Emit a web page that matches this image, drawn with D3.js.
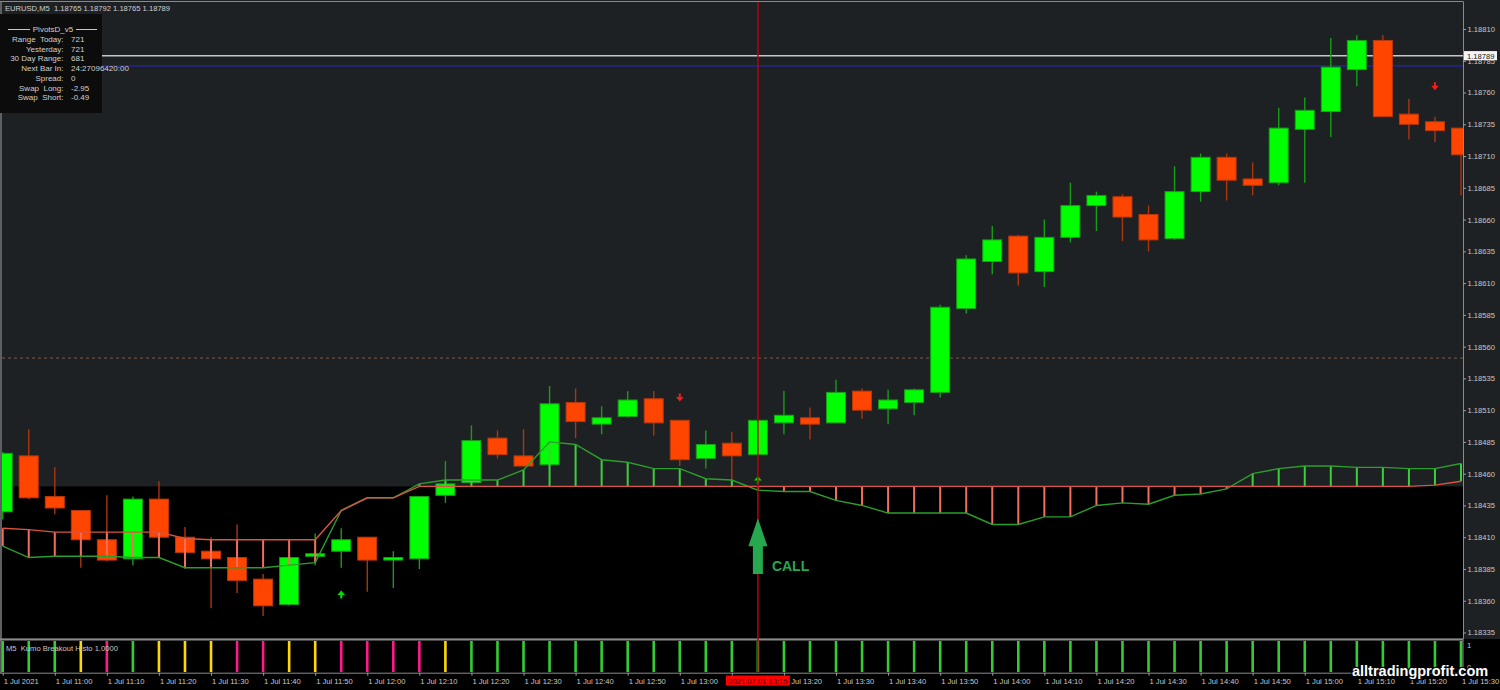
<!DOCTYPE html>
<html><head><meta charset="utf-8">
<script src="https://cdn.jsdelivr.net/npm/d3@7"></script>
<style>html,body{margin:0;padding:0;background:#000;overflow:hidden}svg{display:block}text{white-space:pre}</style>
</head><body><svg id="c" width="1500" height="690"></svg>
<script>
// ---------------- DATA ----------------
const times = ["10:50","10:55","11:00","11:05","11:10","11:15","11:20","11:25","11:30","11:35","11:40","11:45","11:50","11:55",
"12:00","12:05","12:10","12:15","12:20","12:25","12:30","12:35","12:40","12:45","12:50","12:55",
"13:00","13:05","13:10","13:15","13:20","13:25","13:30","13:35","13:40","13:45","13:50","13:55",
"14:00","14:05","14:10","14:15","14:20","14:25","14:30","14:35","14:40","14:45","14:50","14:55",
"15:00","15:05","15:10","15:15","15:20","15:25","15:30"];
const opens = [1.18430,1.18474,1.18442,1.18431,1.18408,1.18393,1.18440,1.18410,1.18399,1.18394,1.18377,1.18357,1.18395,1.18399,
1.18410,1.18392,1.18393,1.18443,1.18453,1.18488,1.18474,1.18467,1.18516,1.18499,1.18505,1.18519,
1.18502,1.18472,1.18484,1.18475,1.18500,1.18504,1.18500,1.18525,1.18511,1.18516,1.18524,1.18590,
1.18627,1.18647,1.18619,1.18646,1.18671,1.18678,1.18664,1.18645,1.18682,1.18709,1.18692,1.18689,
1.18731,1.18745,1.18778,1.18801,1.18743,1.18737,1.18732];
const highs = [1.18477,1.18495,1.18465,1.18431,1.18443,1.18442,1.18454,1.18418,1.18410,1.18420,1.18381,1.18395,1.18413,1.18417,
1.18410,1.18399,1.18442,1.18470,1.18498,1.18494,1.18495,1.18529,1.18527,1.18513,1.18525,1.18525,
1.18502,1.18494,1.18493,1.18502,1.18525,1.18512,1.18534,1.18527,1.18526,1.18527,1.18593,1.18632,
1.18655,1.18648,1.18660,1.18689,1.18682,1.18680,1.18671,1.18702,1.18712,1.18712,1.18705,1.18748,
1.18756,1.18803,1.18805,1.18805,1.18755,1.18741,1.18732];
const lows = [1.18424,1.18440,1.18428,1.18386,1.18391,1.18388,1.18409,1.18385,1.18354,1.18366,1.18348,1.18356,1.18388,1.18386,
1.18367,1.18370,1.18385,1.18437,1.18450,1.18472,1.18466,1.18466,1.18488,1.18491,1.18504,1.18490,
1.18466,1.18464,1.18455,1.18475,1.18491,1.18487,1.18500,1.18503,1.18499,1.18506,1.18520,1.18586,
1.18617,1.18608,1.18607,1.18642,1.18651,1.18643,1.18635,1.18644,1.18674,1.18675,1.18679,1.18687,
1.18689,1.18725,1.18765,1.18741,1.18723,1.18721,1.18679];
const closes = [1.18476,1.18441,1.18433,1.18408,1.18392,1.18440,1.18410,1.18398,1.18393,1.18376,1.18356,1.18394,1.18397,1.18408,
1.18392,1.18394,1.18442,1.18452,1.18486,1.18475,1.18466,1.18515,1.18501,1.18504,1.18518,1.18500,
1.18471,1.18483,1.18474,1.18502,1.18506,1.18499,1.18524,1.18510,1.18518,1.18526,1.18591,1.18629,
1.18644,1.18618,1.18646,1.18671,1.18679,1.18662,1.18644,1.18682,1.18709,1.18691,1.18687,1.18732,
1.18746,1.18780,1.18801,1.18741,1.18735,1.18730,1.18711];
// Kumo lines (red span and green span)
const spanA = [1.18417,1.18416,1.18414,1.18414,1.18414,1.18414,1.18414,1.18409,1.18408,1.18408,1.18408,1.18408,1.18408,1.18431,
1.18441,1.18441,1.18450,1.18450,1.18450,1.18450,1.18450,1.18450,1.18450,1.18450,1.18450,1.18450,
1.18450,1.18450,1.18450,1.18450,1.18450,1.18450,1.18450,1.18450,1.18450,1.18450,1.18450,1.18450,
1.18450,1.18450,1.18450,1.18450,1.18450,1.18450,1.18450,1.18450,1.18450,1.18450,1.18450,1.18450,
1.18450,1.18450,1.18450,1.18450,1.18450,1.18451,1.18454];
const spanB = [1.18403,1.18394,1.18395,1.18395,1.18395,1.18394,1.18394,1.18386,1.18386,1.18386,1.18386,1.18388,1.18390,1.18431,
1.18441,1.18441,1.18452,1.18455,1.18455,1.18455,1.18463,1.18485,1.18483,1.18471,1.18469,1.18464,
1.18464,1.18456,1.18455,1.18447,1.18446,1.18446,1.18439,1.18435,1.18429,1.18429,1.18429,1.18429,
1.18420,1.18420,1.18426,1.18426,1.18435,1.18437,1.18436,1.18443,1.18444,1.18448,1.18460,1.18464,
1.18466,1.18466,1.18465,1.18465,1.18464,1.18464,1.18468];
// Kumo Breakout Histo state per bar: g = green, y = gold, p = pink
const histo = ["g","g","g","y","p","g","y","y","y","p","p","y","y","p",
"p","p","p","y","g","g","g","g","g","g","g","g",
"g","g","g","g","g","g","g","g","g","g","g","g",
"g","g","g","g","g","g","g","g","g","g","g","g",
"g","g","g","g","g","g","g"];
const upArrows = [{bar:"11:55", price:1.18365},{bar:"13:15", price:1.18455}];
const downArrows = [{bar:"13:00", price:1.18520},{bar:"15:25", price:1.18765}];
const priceTicks = [1.18810,1.18785,1.18760,1.18735,1.18710,1.18685,1.18660,1.18635,1.18610,1.18585,
1.18560,1.18535,1.18510,1.18485,1.18460,1.18435,1.18410,1.18385,1.18360,1.18335];
const timeTickTimes = ["10:50","11:00","11:10","11:20","11:30","11:40","11:50","12:00","12:10","12:20","12:30","12:40","12:50",
"13:00","13:10","13:20","13:30","13:40","13:50","14:00","14:10","14:20","14:30","14:40","14:50","15:00","15:10","15:20","15:30"];
const timeTickLabels = ["1 Jul 2021","1 Jul 11:00","1 Jul 11:10","1 Jul 11:20","1 Jul 11:30","1 Jul 11:40","1 Jul 11:50","1 Jul 12:00","1 Jul 12:10","1 Jul 12:20","1 Jul 12:30","1 Jul 12:40","1 Jul 12:50",
"1 Jul 13:00","1 Jul 13:10","1 Jul 13:20","1 Jul 13:30","1 Jul 13:40","1 Jul 13:50","1 Jul 14:00","1 Jul 14:10","1 Jul 14:20","1 Jul 14:30","1 Jul 14:40","1 Jul 14:50","1 Jul 15:00","1 Jul 15:10","1 Jul 15:20","1 Jul 15:30"];
const bidPrice = 1.18789, askLine = 1.18781, pivotLine = 1.18551, zoneTop = 1.18450;
const titleText = "EURUSD,M5  1.18765 1.18792 1.18765 1.18789";
const panelLabels = ["Range  Today:","Yesterday:","30 Day Range:","Next Bar In:","Spread:","Swap  Long:","Swap  Short:"];
const panelValues = ["721","721","681","24:27096420:00","0","-2.95","-0.49"];
const vlineTime = "13:15", vlineLabel = "2021.07.01 13:15";
const callAnno = {bar:"13:15", tip:1.18425, base:1.18381, label:"CALL"};

// ---------------- DRAW ----------------
const svg = d3.select("#c");
const FONT = "'Liberation Sans', Arial, sans-serif";
const FS = 7.6;
const plotL = 2, plotR = 1463, plotT = 2, plotB = 638;
const x = d3.scalePoint().domain(times).range([2.7, 1461]);
const y = d3.scaleLinear().domain([1.18335, 1.18810]).range([632.5, 29]);
const yh = d3.scaleLinear().domain([0, 1]).range([672, 641]);

svg.append("rect").attr("x",0).attr("y",0).attr("width",1500).attr("height",639).attr("fill","#1e2124");
svg.append("rect").attr("x",0).attr("y",639).attr("width",1500).attr("height",51).attr("fill","#000");

const defs = svg.append("defs");
defs.append("clipPath").attr("id","plot").append("rect")
  .attr("x",plotL).attr("y",plotT).attr("width",plotR-plotL).attr("height",plotB-plotT);
const main = svg.append("g").attr("clip-path","url(#plot)");

// black zone below level
main.append("rect").attr("x",plotL).attr("y",y(zoneTop)).attr("width",plotR-plotL)
  .attr("height",plotB - y(zoneTop)).attr("fill","#000");

// horizontal lines
main.append("line").attr("x1",plotL).attr("x2",plotR).attr("y1",y(pivotLine)).attr("y2",y(pivotLine))
  .attr("stroke","#7a5c44").attr("stroke-width",1).attr("stroke-dasharray","3,3");
main.append("line").attr("x1",plotL).attr("x2",plotR).attr("y1",y(bidPrice)).attr("y2",y(bidPrice))
  .attr("stroke","#c8c8c8").attr("stroke-width",1.5);
main.append("line").attr("x1",plotL).attr("x2",plotR).attr("y1",y(askLine)).attr("y2",y(askLine))
  .attr("stroke","#22228c").attr("stroke-width",1.6);

// candles
const idx = d3.range(times.length);
const bull = i => closes[i] >= opens[i];
main.append("g").selectAll("line").data(idx).join("line")
  .attr("x1",i=>x(times[i])).attr("x2",i=>x(times[i]))
  .attr("y1",i=>y(highs[i])).attr("y2",i=>y(lows[i]))
  .attr("stroke",i=>bull(i)?"#179c17":"#a8360f").attr("stroke-width",1.4);
main.append("g").selectAll("rect").data(idx).join("rect")
  .attr("x",i=>x(times[i])-9.5).attr("width",19)
  .attr("y",i=>y(Math.max(opens[i],closes[i])))
  .attr("height",i=>Math.max(1.5, Math.abs(y(opens[i])-y(closes[i]))))
  .attr("fill",i=>bull(i)?"#00ff00":"#ff4500")
  .attr("stroke",i=>bull(i)?"#16a016":"#b8380c").attr("stroke-width",1);

// kumo verticals
main.append("g").selectAll("line").data(idx.filter(i=>spanA[i]!==spanB[i])).join("line")
  .attr("x1",i=>x(times[i])).attr("x2",i=>x(times[i]))
  .attr("y1",i=>y(spanA[i])).attr("y2",i=>y(spanB[i]))
  .attr("stroke",i=>spanB[i]>spanA[i]?"#3ccf3c":"#f46e5c").attr("stroke-width",2);
const lineA = d3.line().x(i=>x(times[i])).y(i=>y(spanA[i]));
const lineB = d3.line().x(i=>x(times[i])).y(i=>y(spanB[i]));
main.append("path").attr("d",lineB(idx)).attr("fill","none").attr("stroke","#2c9e2c").attr("stroke-width",1.4);
main.append("path").attr("d",lineA(idx)).attr("fill","none").attr("stroke","#d8553f").attr("stroke-width",1.4);

// signal arrows (dir -1 = up, +1 = down)
function arrowPath(cx, cy, dir){
  const t = cy + dir*4, b = cy - dir*4, m = cy - dir*0.5;
  return `M${cx},${t} L${cx-3.8},${m} L${cx-1},${m} L${cx-1},${b} L${cx+1},${b} L${cx+1},${m} L${cx+3.8},${m} Z`;
}
main.append("g").selectAll("path").data(upArrows).join("path")
  .attr("d",d=>arrowPath(x(d.bar), y(d.price), -1)).attr("fill","#00e000");
main.append("g").selectAll("path").data(downArrows).join("path")
  .attr("d",d=>arrowPath(x(d.bar), y(d.price), 1)).attr("fill","#ff1a1a");

// frame lines
svg.append("line").attr("x1",0).attr("x2",plotR).attr("y1",1.5).attr("y2",1.5).attr("stroke","#8a8a8a").attr("stroke-width",1);
svg.append("line").attr("x1",1).attr("x2",1).attr("y1",1.5).attr("y2",673).attr("stroke","#8a8a8a").attr("stroke-width",1.2);
svg.append("line").attr("x1",0).attr("x2",plotR).attr("y1",639.5).attr("y2",639.5).attr("stroke","#8a8a8a").attr("stroke-width",2);

// indicator histogram
const hcol = {g:"#33cc33", y:"#ffd700", p:"#ff1a8c"};
svg.append("g").selectAll("rect").data(idx).join("rect")
  .attr("x",i=>x(times[i])-1.3).attr("width",2.6)
  .attr("y",yh(1)).attr("height",yh(0)-yh(1)).attr("fill",i=>hcol[histo[i]]);
svg.append("text").attr("x",6).attr("y",651).attr("fill","#c8c8c8").attr("font-family",FONT).attr("font-size",FS)
  .text("M5  Kumo Breakout Histo 1.0000");
svg.append("text").attr("x",1467).attr("y",648).attr("fill","#c8c8c8").attr("font-family",FONT).attr("font-size",FS).text("1");
svg.append("text").attr("x",1467).attr("y",670).attr("fill","#c8c8c8").attr("font-family",FONT).attr("font-size",FS).text("0");
svg.append("line").attr("x1",plotR).attr("x2",plotR).attr("y1",639).attr("y2",673).attr("stroke","#8a8a8a");

// vertical red line
svg.append("line").attr("x1",x(vlineTime)).attr("x2",x(vlineTime)).attr("y1",2).attr("y2",672)
  .attr("stroke","#c00000").attr("stroke-width",1.5);

// price axis
const ya = svg.append("g").attr("transform",`translate(${plotR},0)`)
  .call(d3.axisRight(y).tickValues(priceTicks).tickFormat(d3.format(".5f")).tickSize(3).tickPadding(1.5));
ya.select(".domain").attr("stroke","#8a8a8a").attr("d",`M0.5,1.5V639`);
ya.selectAll(".tick line").attr("stroke","#a0a0a0");
ya.selectAll("text").attr("fill","#c8c8c8").attr("font-family",FONT).attr("font-size",FS);

// current price label
const bp = svg.append("g").attr("transform",`translate(1464,${y(bidPrice)})`);
bp.append("rect").attr("x",0).attr("y",-4.6).attr("width",33).attr("height",9.2).attr("fill","#f4f4f4");
bp.append("text").attr("x",3).attr("y",3).attr("fill","#202020").attr("font-family",FONT).attr("font-size",FS).text(d3.format(".5f")(bidPrice));

// time axis
const xa = svg.append("g").attr("transform","translate(0,672.7)")
  .call(d3.axisBottom(x).tickValues(timeTickTimes).tickFormat((d,i)=>timeTickLabels[i]).tickSize(3).tickPadding(3));
xa.select(".domain").attr("stroke","#8a8a8a").attr("d",`M0,0.5H${plotR}`);
xa.selectAll(".tick line").attr("stroke","#a0a0a0");
xa.selectAll("text").attr("fill","#c8c8c8").attr("font-family",FONT).attr("font-size",FS)
  .attr("text-anchor","start").attr("dx",0.5);
// the label hidden under the vertical line's time box is not shown (covered in the original)
const vIdx = times.indexOf(vlineTime);
xa.selectAll(".tick").filter(d => { const j = times.indexOf(d); return j < vIdx && j >= vIdx - 1; })
  .select("text").remove();

// red time label on vline
const vl = svg.append("g").attr("transform",`translate(${x(vlineTime)},680.5)`);
vl.append("rect").attr("x",-32).attr("y",-5).attr("width",64).attr("height",10).attr("fill","#ff0000");
vl.append("text").attr("x",0).attr("y",3).attr("text-anchor","middle").attr("fill","#3a0000")
  .attr("font-family",FONT).attr("font-size",FS).text(vlineLabel);

// CALL annotation
const cx = x(callAnno.bar), ct = y(callAnno.tip), cb = y(callAnno.base);
const hb = ct + 28;
svg.append("path").attr("d",`M${cx},${ct} L${cx+9.5},${hb} L${cx+5},${hb} L${cx+5},${cb} L${cx-5},${cb} L${cx-5},${hb} L${cx-9.5},${hb} Z`)
  .attr("fill","#26a84f");
svg.append("text").attr("x",cx+14).attr("y",cb-3).attr("fill","#26a84f").attr("font-family",FONT)
  .attr("font-weight","bold").attr("font-size",14).text(callAnno.label);

// title
svg.append("text").attr("x",5).attr("y",11).attr("fill","#d0d0d0").attr("font-family",FONT).attr("font-size",FS).text(titleText);

// pivots panel
svg.append("rect").attr("x",0).attr("y",14).attr("width",102).attr("height",99).attr("fill","#0c0c0c");
svg.append("line").attr("x1",8).attr("x2",30).attr("y1",29.5).attr("y2",29.5).attr("stroke","#c8c8c8");
svg.append("line").attr("x1",76).attr("x2",97).attr("y1",29.5).attr("y2",29.5).attr("stroke","#c8c8c8");
svg.append("text").attr("x",53).attr("y",32.3).attr("text-anchor","middle").attr("fill","#d0d0d0")
  .attr("font-family",FONT).attr("font-size",8).text("PivotsD_v5");
const rowsY = [39, 48.8, 58.4, 68, 77.8, 87.6, 97.3];
svg.append("g").selectAll("text").data(panelLabels).join("text")
  .attr("x",63.5).attr("y",(d,i)=>rowsY[i]+3).attr("text-anchor","end").attr("fill","#d0d0d0")
  .attr("font-family",FONT).attr("font-size",8).text(d=>d);
svg.append("g").selectAll("text").data(panelValues).join("text")
  .attr("x",71).attr("y",(d,i)=>rowsY[i]+3).attr("fill","#d0d0d0")
  .attr("font-family",FONT).attr("font-size",8).text(d=>d);

// watermark
svg.append("text").attr("x",1352).attr("y",676).attr("fill","#ffffff").attr("stroke","#000").attr("stroke-width",2.5)
  .attr("paint-order","stroke").attr("font-family",FONT).attr("font-weight","bold")
  .attr("font-size",14.5).text("alltradingprofit.com");
</script></body></html>
